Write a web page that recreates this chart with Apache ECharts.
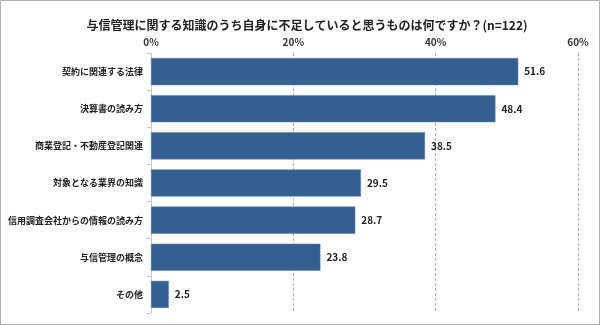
<!DOCTYPE html>
<html><head><meta charset="utf-8">
<script src="https://cdn.jsdelivr.net/npm/echarts@6/dist/echarts.min.js"></script>
<style>html,body{margin:0;padding:0;background:#fff}#c{width:600px;height:325px}</style>
</head><body><div id="c"></div>
<script>
const categories = ['契約に関連する法律','決算書の読み方','商業登記・不動産登記関連','対象となる業界の知識','信用調査会社からの情報の読み方','与信管理の概念','その他'];
const values = [51.6, 48.4, 38.5, 29.5, 28.7, 23.8, 2.5];
const titleText = '与信管理に関する知識のうち自身に不足していると思うものは何ですか？(n=122)';
const FONT = '"Noto Sans CJK JP", sans-serif';
const chart = echarts.init(document.getElementById('c'));
chart.setOption({
  animation: false,
  title: { text: titleText, left: 302, textAlign: 'center', top: 14,
    textStyle: { fontFamily: FONT, fontSize: 12, fontWeight: 'bold', color: '#222' } },
  graphic: [{ type: 'rect', shape: { x: 0.5, y: 0.5, width: 599, height: 324 },
    style: { fill: null, stroke: '#b0b0b0', lineWidth: 1 }, silent: true }],
  grid: { left: 151, right: 22, top: 53, bottom: 12, containLabel: false, outerBoundsMode: 'none' },
  xAxis: { type: 'value', position: 'top', min: 0, max: 60, interval: 20,
    axisLabel: { formatter: '{value}%', fontFamily: FONT, fontSize: 10, fontWeight: 'bold', color: '#333', margin: 6 },
    axisLine: { show: false }, axisTick: { show: false },
    splitLine: { show: true, lineStyle: { type: [3, 2], color: '#b8b8b8' } } },
  yAxis: { type: 'category', data: categories, inverse: true,
    axisLine: { show: true, lineStyle: { color: '#c8c8c8' } },
    axisTick: { show: true, length: 4, lineStyle: { color: '#c8c8c8' } },
    axisLabel: { fontFamily: FONT, fontSize: 9, fontWeight: 'bold', color: '#222', margin: 8 } },
  series: [{ type: 'bar', data: values, barWidth: '73%',
    itemStyle: { color: '#365f91', borderColor: '#5a7fae', borderWidth: 0.5 },
    label: { show: true, position: 'right', distance: 6, formatter: p => p.value.toFixed(1),
      fontFamily: FONT, fontSize: 10, fontWeight: 'bold', color: '#222' } }]
});
</script></body></html>
